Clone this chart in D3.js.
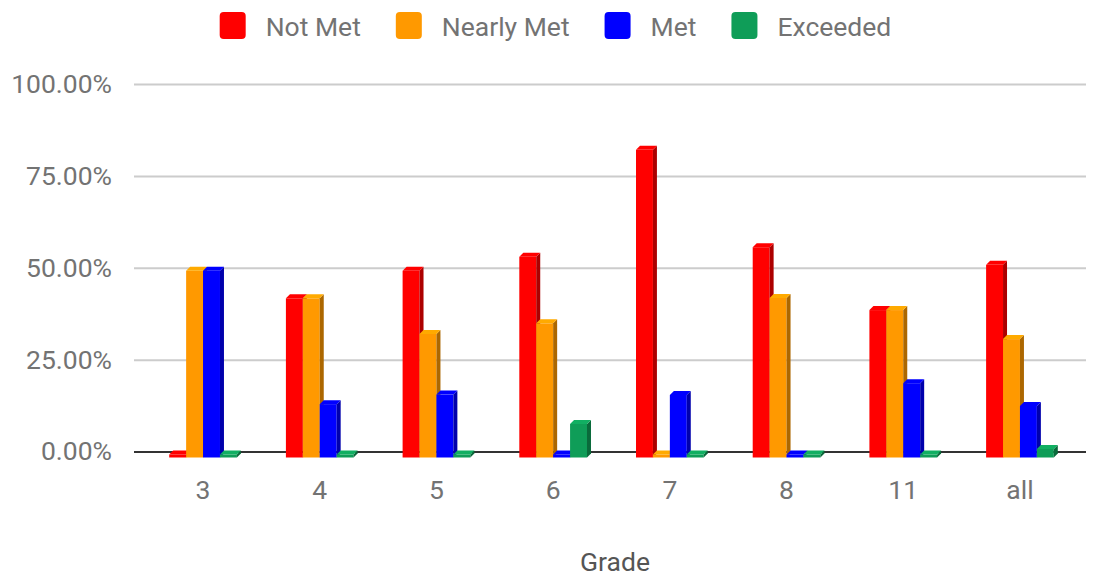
<!DOCTYPE html>
<html>
<head>
<meta charset="utf-8">
<script src="https://cdn.jsdelivr.net/npm/d3@7"></script>
<style>
  body { margin: 0; background: #fff; }
  text { font-family: Roboto, "Noto Sans", sans-serif; }
</style>
</head>
<body>
<div id="chart"></div>
<script>
// 数据
var grades = ["3", "4", "5", "6", "7", "8", "11", "all"];
var seriesNames = ["Not Met", "Nearly Met", "Met", "Exceeded"];
var notMet    = [0,    0.425, 0.50,  0.538, 0.829, 0.564, 0.393, 0.516];
var nearlyMet = [0.50, 0.425, 0.328, 0.357, 0,     0.426, 0.393, 0.314];
var met       = [0.50, 0.137, 0.163, 0,     0.162, 0,     0.194, 0.132];
var exceeded  = [0,    0,     0,     0.083, 0,     0,     0,     0.015];
var yTicks = [0, 0.25, 0.5, 0.75, 1];
var colors = ["#ff0000", "#ff9900", "#0000ff", "#0f9d58"];

var seriesValues = [notMet, nearlyMet, met, exceeded];

var widthx = 1098;  // 画布宽度
var heighty = 578;  // 画布高度
var gridLeft = 134, gridRight = 1086;
var depth = 4; // 立体效果的偏移
var fontSize = "26.5px";
var textGray = "#737373";

var svg = d3.select("#chart")
    .append("svg")
    .attr("width", widthx)
    .attr("height", heighty);

var x0 = d3.scaleBand()
    .domain(grades)
    .range([144.7, 1078.3])
    .paddingInner(0.42)
    .paddingOuter(0.21);

var x1 = d3.scaleBand()
    .domain(seriesNames)
    .range([0, x0.bandwidth()]);

var y = d3.scaleLinear()
    .domain([0, 1])
    .range([451.5, 84]);

// 网格线和y轴
var yAxis = svg.append("g")
    .attr("transform", "translate(" + gridLeft + ",0)")
    .call(d3.axisLeft(y)
        .tickValues(yTicks)
        .tickFormat(d3.format(".2%"))
        .tickSize(-(gridRight - gridLeft))
        .tickPadding(22));
yAxis.select(".domain").remove();
yAxis.selectAll(".tick line")
    .attr("stroke", function(d) { return d === 0 ? "#333" : "#ccc"; })
    .attr("stroke-width", 2);
yAxis.selectAll(".tick text")
    .attr("fill", textGray)
    .style("font-size", fontSize);

// x轴
var xAxis = svg.append("g")
    .attr("transform", "translate(0,470)")
    .call(d3.axisBottom(x0).tickSize(0).tickPadding(10));
xAxis.select(".domain").remove();
xAxis.selectAll(".tick text")
    .attr("fill", textGray)
    .style("font-size", fontSize);

svg.append("text")
    .attr("x", 615)
    .attr("y", 571)
    .attr("text-anchor", "middle")
    .attr("fill", "#555")
    .style("font-size", fontSize)
    .text("Grade");

// 立体柱子
var bars = [];
grades.forEach(function(g, gi) {
    seriesNames.forEach(function(s, si) {
        bars.push({ grade: g, series: s, si: si, value: seriesValues[si][gi] });
    });
});

var barG = svg.selectAll(".bar")
    .data(bars)
    .enter().append("g")
    .attr("class", "bar");

function shape(d) {
    var bx = x0(d.grade) + x1(d.series);
    var w = x1.bandwidth();
    var yb = y(0) + 6;
    var yt = Math.min(y(d.value) + 3, yb);
    return { bx: bx, w: w, yb: yb, yt: yt };
}

barG.append("rect")
    .attr("x", function(d) { return shape(d).bx; })
    .attr("y", function(d) { return shape(d).yt; })
    .attr("width", function(d) { return shape(d).w; })
    .attr("height", function(d) { var s = shape(d); return s.yb - s.yt; })
    .attr("fill", function(d) { return colors[d.si]; });

barG.append("path")
    .attr("d", function(d) {
        var s = shape(d);
        return "M" + (s.bx + s.w) + "," + s.yt +
            "L" + (s.bx + s.w + depth) + "," + (s.yt - depth) +
            "L" + (s.bx + s.w + depth) + "," + (s.yb - depth) +
            "L" + (s.bx + s.w) + "," + s.yb + "Z";
    })
    .attr("fill", function(d) { return d3.color(colors[d.si]).darker(1.1); });

barG.append("path")
    .attr("d", function(d) {
        var s = shape(d);
        return "M" + s.bx + "," + s.yt +
            "L" + (s.bx + depth) + "," + (s.yt - depth) +
            "L" + (s.bx + s.w + depth) + "," + (s.yt - depth) +
            "L" + (s.bx + s.w) + "," + s.yt + "Z";
    })
    .attr("fill", function(d) { return d3.color(colors[d.si]).brighter(0.3); });

// 图例
var legend = svg.append("g").attr("class", "legend");
var lx = 0;
seriesNames.forEach(function(name, i) {
    var item = legend.append("g").attr("transform", "translate(" + lx + ",0)");
    item.append("rect")
        .attr("x", 0).attr("y", 12)
        .attr("width", 26).attr("height", 27)
        .attr("rx", 4)
        .attr("fill", colors[i]);
    var t = item.append("text")
        .attr("x", 46).attr("y", 36)
        .attr("fill", textGray)
        .style("font-size", fontSize)
        .text(name);
    lx += 46 + t.node().getComputedTextLength() + 35;
});
var legendW = lx - 35;
legend.attr("transform", "translate(" + (555.5 - legendW / 2) + ",0)");
</script>
</body>
</html>
